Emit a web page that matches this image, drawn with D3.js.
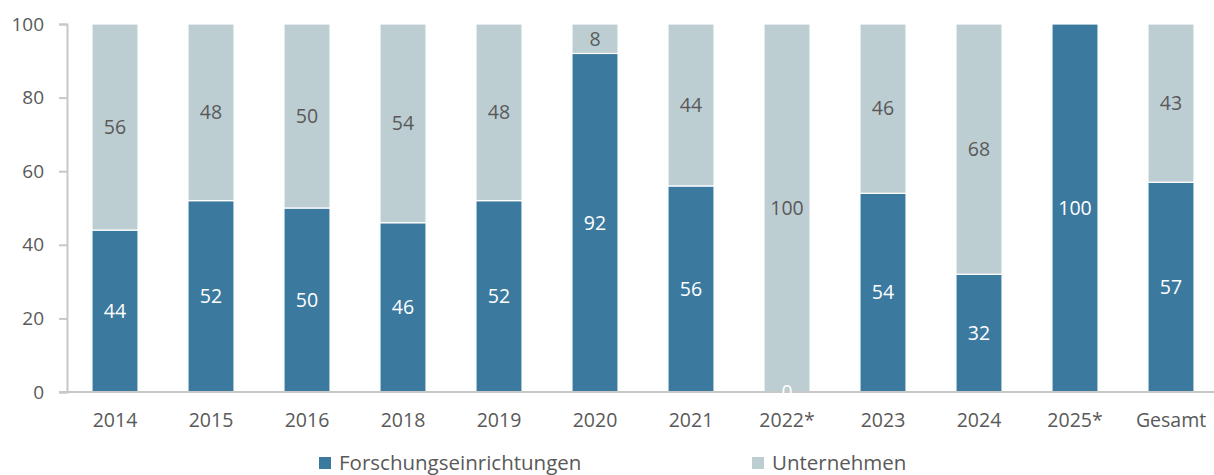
<!DOCTYPE html>
<html lang="de">
  <head>
    <meta charset="utf-8">
    <script src="https://d3js.org/d3.v7.min.js"></script>
    <style>
      body { margin: 0; background: #fff; }
      text { font-family: "Open Sans", sans-serif; }
    </style>
  </head>
  <body>
    <svg width="1214" height="475"></svg>
    <script>
      // data
      var categories = ["2014", "2015", "2016", "2018", "2019", "2020", "2021", "2022*", "2023", "2024", "2025*", "Gesamt"];
      var forschung = [44, 52, 50, 46, 52, 92, 56, 0, 54, 32, 100, 57];
      var unternehmen = [56, 48, 50, 54, 48, 8, 44, 100, 46, 68, 0, 43];
      var seriesNames = ["Forschungseinrichtungen", "Unternehmen"];
      var yTicks = [0, 20, 40, 60, 80, 100];

      var colors = ["#3b799f", "#bdced3"];
      var labelColors = ["#ffffff", "#595959"];

      var svg = d3.select("svg");

      var x = d3.scaleBand()
        .domain(categories)
        .range([67, 1219])
        .paddingInner(0.52)
        .paddingOuter(0.26);

      var y = d3.scaleLinear()
        .domain([0, 100])
        .range([392, 24]);

      var rows = categories.map(function(c, i) {
        return { cat: c, Forschungseinrichtungen: forschung[i], Unternehmen: unternehmen[i] };
      });
      var stacked = d3.stack().keys(seriesNames)(rows);

      // bars
      stacked.forEach(function(layer, si) {
        svg.append("g")
          .selectAll("rect")
          .data(layer)
          .enter().append("rect")
            .attr("x", function(d) { return x(d.data.cat); })
            .attr("y", function(d) { return y(d[1]); })
            .attr("width", x.bandwidth())
            .attr("height", function(d) { return y(d[0]) - y(d[1]); })
            .attr("fill", colors[si])
            .attr("stroke", "#fff")
            .attr("stroke-width", function(d) { return d[1] - d[0] > 0 ? 1.2 : 0; });
      });

      // y axis
      var yAxis = svg.append("g")
        .attr("transform", "translate(67,0)")
        .call(d3.axisLeft(y).tickValues(yTicks).tickSize(8).tickPadding(15));
      yAxis.select(".domain").attr("stroke", "#c8c8c8").attr("stroke-width", 2);
      yAxis.selectAll(".tick line").attr("stroke", "#c8c8c8").attr("stroke-width", 2);
      yAxis.selectAll(".tick text")
        .attr("fill", "#595959")
        .style("font-size", "19px");

      // x axis
      var xAxis = svg.append("g")
        .attr("transform", "translate(0,392)")
        .call(d3.axisBottom(x).tickSize(0).tickPadding(21));
      xAxis.select(".domain").attr("stroke", "#c8c8c8").attr("stroke-width", 2)
        .attr("d", "M59,0H1219");
      xAxis.selectAll(".tick text")
        .attr("fill", "#595959")
        .style("font-size", "19.5px");

      // data labels
      stacked.forEach(function(layer, si) {
        svg.append("g")
          .selectAll("text")
          .data(layer.filter(function(d) { return si === 0 || d[1] - d[0] > 0; }))
          .enter().append("text")
            .attr("x", function(d) { return x(d.data.cat) + x.bandwidth() / 2; })
            .attr("y", function(d) { return y((d[0] + d[1]) / 2); })
            .attr("dy", "0.35em")
            .attr("text-anchor", "middle")
            .attr("fill", labelColors[si])
            .style("font-size", "19.5px")
            .text(function(d) { return d[1] - d[0]; });
      });

      // legend
      var legendX = [319, 752];
      seriesNames.forEach(function(name, i) {
        var g = svg.append("g").attr("transform", "translate(" + legendX[i] + ",457)");
        g.append("rect").attr("width", 12).attr("height", 12).attr("fill", colors[i]);
        g.append("text")
          .attr("x", 20)
          .attr("y", 6)
          .attr("dy", "0.35em")
          .attr("fill", "#595959")
          .style("font-size", "20.5px")
          .text(name);
      });
    </script>
  </body>
</html>
